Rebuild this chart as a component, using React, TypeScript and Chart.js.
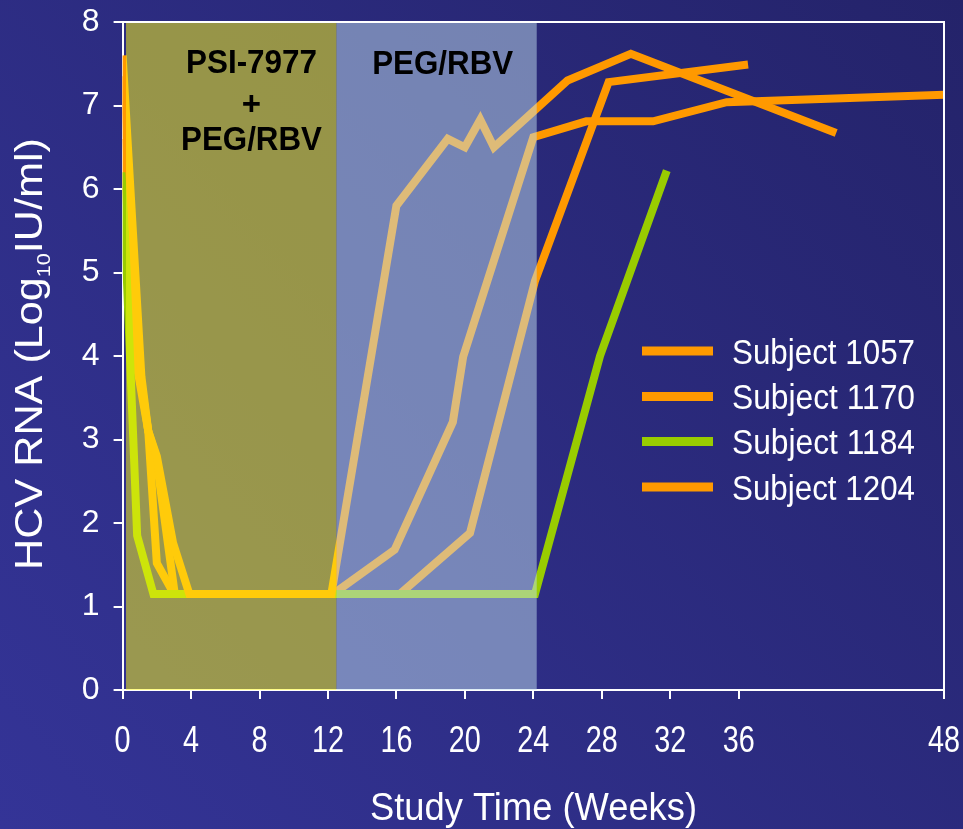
import React, { useEffect, useRef } from 'react';
import { Chart, registerables } from 'chart.js';

Chart.register(...registerables);

// ---- Data ----
const xTickValues = [0, 4, 8, 12, 16, 20, 24, 28, 32, 36, 48];
const yTickValues = [0, 1, 2, 3, 4, 5, 6, 7, 8];

const seriesNames = ['Subject 1057', 'Subject 1170', 'Subject 1184', 'Subject 1204'];
const seriesColors = ['#FF9900', '#FF9900', '#99CC00', '#FF9900'];

const weeks1057 = [0, 1.1, 1.5, 2.0, 2.95, 3.9, 12.2, 16.0, 19.0, 20.0, 20.9, 21.7, 26.0, 29.7, 41.7];
const rna1057 = [7.6, 3.75, 3.1, 2.8, 1.76, 1.15, 1.15, 5.8, 6.6, 6.5, 6.83, 6.5, 7.3, 7.62, 6.67];

const weeks1170 = [0, 0.9, 1.5, 2.0, 3.0, 12.3, 15.9, 19.3, 19.9, 24.0, 27.1, 31.0, 35.3, 48];
const rna1170 = [6.6, 3.8, 3.1, 1.52, 1.15, 1.15, 1.68, 3.21, 3.99, 6.62, 6.81, 6.81, 7.04, 7.13];

const weeks1184 = [0, 0.85, 1.8, 24.1, 27.9, 31.8];
const rna1184 = [6.2, 1.85, 1.15, 1.15, 4.0, 6.22];

const weeks1204 = [0, 1.0, 1.5, 1.95, 3.05, 16.2, 20.3, 24.1, 28.4, 36.55];
const rna1204 = [7.35, 3.8, 3.1, 2.8, 1.15, 1.15, 1.88, 4.9, 7.28, 7.49];

const phaseStart = [0.2, 12.5];
const phaseEnd = [12.5, 24.2];
const phaseLabelLines = [['PSI-7977', '+', 'PEG/RBV'], ['PEG/RBV']];

const yTitleMain = 'HCV RNA (Log';
const yTitleSub = '10';
const yTitleEnd = 'IU/ml)';
const xTitle = 'Study Time (Weeks)';

const SANS = "'Liberation Sans', Arial, Helvetica, sans-serif";

function toPoints(xs: number[], ys: number[]) {
  return xs.map((x, i) => ({ x, y: ys[i] }));
}

function fitText(ctx: CanvasRenderingContext2D, text: string, x: number, y: number, width: number, align: CanvasTextAlign) {
  const w = ctx.measureText(text).width;
  const k = width / w;
  ctx.save();
  ctx.translate(x, y);
  ctx.scale(k, 1);
  ctx.textAlign = align;
  ctx.fillText(text, 0, 0);
  ctx.restore();
}

function scaledText(ctx: CanvasRenderingContext2D, text: string, x: number, y: number, k: number, align: CanvasTextAlign) {
  ctx.save();
  ctx.translate(x, y);
  ctx.scale(k, 1);
  ctx.textAlign = align;
  ctx.fillText(text, 0, 0);
  ctx.restore();
}

const bgPlugin = {
  id: 'bgPlugin',
  beforeDraw(chart: any) {
    const { ctx, width, height } = chart;
    ctx.save();
    const g = ctx.createLinearGradient(0, height, width, 0);
    g.addColorStop(0, '#343497');
    g.addColorStop(1, '#24236a');
    ctx.fillStyle = g;
    ctx.fillRect(0, 0, width, height);
    ctx.restore();
  },
};

const overlayPlugin = {
  id: 'overlayPlugin',
  afterDatasetsDraw(chart: any) {
    const { ctx, scales } = chart;
    const xs = scales.x;
    const ys = scales.y;
    const top = ys.getPixelForValue(8) + 1;
    const bottom = ys.getPixelForValue(0);
    const fills = ['rgba(255,252,20,0.51)', 'rgba(190,220,236,0.51)'];
    ctx.save();
    phaseStart.forEach((s, i) => {
      const x0 = xs.getPixelForValue(s);
      const x1 = xs.getPixelForValue(phaseEnd[i]);
      ctx.fillStyle = fills[i];
      ctx.fillRect(x0, top, x1 - x0, bottom - top);
    });
    // phase labels
    ctx.fillStyle = '#000';
    ctx.font = `bold 33px ${SANS}`;
    ctx.textBaseline = 'alphabetic';
    const l1 = phaseLabelLines[0];
    fitText(ctx, l1[0], 251.5, 73, 131, 'center');
    ctx.textAlign = 'center';
    ctx.fillText(l1[1], 251.5, 115);
    fitText(ctx, l1[2], 251.5, 150, 141, 'center');
    fitText(ctx, phaseLabelLines[1][0], 442.7, 74, 141, 'center');
    ctx.restore();
  },
  afterDraw(chart: any) {
    const { ctx, chartArea, scales } = chart;
    ctx.save();
    // top and right frame
    ctx.strokeStyle = '#ffffff';
    ctx.lineWidth = 2;
    ctx.beginPath();
    ctx.moveTo(chartArea.left, chartArea.top);
    ctx.lineTo(chartArea.right, chartArea.top);
    ctx.lineTo(chartArea.right, chartArea.bottom);
    ctx.stroke();

    // x tick labels (condensed), placed from the x scale's ticks
    ctx.fillStyle = '#ffffff';
    ctx.font = `36px ${SANS}`;
    ctx.textBaseline = 'alphabetic';
    scales.x.ticks.forEach((t: any) => {
      const px = scales.x.getPixelForValue(t.value);
      scaledText(ctx, String(t.value), px, 752, 0.8, 'center');
    });

    // legend
    const rowY = [351, 396.5, 441.5, 487];
    seriesNames.forEach((name, i) => {
      ctx.strokeStyle = seriesColors[i];
      ctx.lineWidth = 9;
      ctx.lineCap = 'butt';
      ctx.beginPath();
      ctx.moveTo(642, rowY[i]);
      ctx.lineTo(713, rowY[i]);
      ctx.stroke();
      ctx.fillStyle = '#ffffff';
      ctx.font = `35px ${SANS}`;
      ctx.textBaseline = 'alphabetic';
      fitText(ctx, name, 732, rowY[i] + 12.5, 183, 'left');
    });

    // x title
    ctx.fillStyle = '#ffffff';
    ctx.font = `39px ${SANS}`;
    fitText(ctx, xTitle, 533.5, 820, 327, 'center');

    // y title (rotated, with subscript)
    const mainSize = 38;
    const subSize = 19;
    ctx.font = `${mainSize}px ${SANS}`;
    const w1 = ctx.measureText(yTitleMain).width;
    const w3 = ctx.measureText(yTitleEnd).width;
    ctx.font = `${subSize}px ${SANS}`;
    const w2 = ctx.measureText(yTitleSub).width;
    const k = 432 / (w1 + w2 + w3);
    ctx.translate(42, 570);
    ctx.rotate(-Math.PI / 2);
    ctx.scale(k, 1);
    ctx.textAlign = 'left';
    ctx.font = `${mainSize}px ${SANS}`;
    ctx.fillText(yTitleMain, 0, 0);
    ctx.font = `${subSize}px ${SANS}`;
    ctx.fillText(yTitleSub, w1, 8);
    ctx.font = `${mainSize}px ${SANS}`;
    ctx.fillText(yTitleEnd, w1 + w2, 0);
    ctx.restore();
  },
};

export default function App() {
  const canvasRef = useRef<HTMLCanvasElement | null>(null);

  useEffect(() => {
    const canvas = canvasRef.current;
    if (!canvas) return;
    const seriesWeeks = [weeks1057, weeks1170, weeks1184, weeks1204];
    const seriesRna = [rna1057, rna1170, rna1184, rna1204];
    const drawOrder = [0, 2, 1, 3];
    const chart = new Chart(canvas, {
      type: 'line',
      data: {
        datasets: seriesNames.map((name, i) => ({
          label: name,
          data: toPoints(seriesWeeks[i], seriesRna[i]),
          borderColor: seriesColors[i],
          backgroundColor: seriesColors[i],
          borderWidth: 8,
          pointRadius: 0,
          tension: 0,
          fill: false,
          order: drawOrder[i],
        })),
      },
      options: {
        animation: false,
        responsive: false,
        devicePixelRatio: 1,
        layout: { padding: { top: 22, right: 19, left: 0, bottom: 0 } },
        plugins: { legend: { display: false }, tooltip: { enabled: false } },
        elements: { line: { borderJoinStyle: 'miter', borderCapStyle: 'butt' } },
        scales: {
          x: {
            type: 'linear',
            min: 0,
            max: 48,
            afterBuildTicks: (s: any) => {
              s.ticks = xTickValues.map((v) => ({ value: v }));
            },
            afterFit: (s: any) => {
              s.height = 139;
              s.paddingLeft = 0;
              s.paddingRight = 0;
            },
            grid: { display: true, drawOnChartArea: false, drawTicks: true, tickLength: 9, color: '#ffffff', lineWidth: 2 },
            border: { display: true, color: '#ffffff', width: 2 },
            ticks: { display: false, autoSkip: false, maxRotation: 0, minRotation: 0 },
            title: { display: false },
          },
          y: {
            type: 'linear',
            min: 0,
            max: 8,
            afterBuildTicks: (s: any) => {
              s.ticks = yTickValues.map((v) => ({ value: v }));
            },
            afterFit: (s: any) => {
              s.width = 122.6;
              s.paddingTop = 0;
              s.paddingBottom = 0;
            },
            grid: { display: true, drawOnChartArea: false, drawTicks: true, tickLength: 9, color: '#ffffff', lineWidth: 2 },
            border: { display: true, color: '#ffffff', width: 2 },
            ticks: {
              color: '#ffffff',
              font: { family: SANS, size: 32 },
              padding: 14,
            },
            title: { display: false },
          },
        },
      } as any,
      plugins: [bgPlugin, overlayPlugin],
    });
    return () => chart.destroy();
  }, []);

  return (
    <div style={{ position: 'absolute', left: 0, top: 0, width: 963, height: 829 }}>
      <canvas ref={canvasRef} width={963} height={829} style={{ display: 'block' }} />
    </div>
  );
}
